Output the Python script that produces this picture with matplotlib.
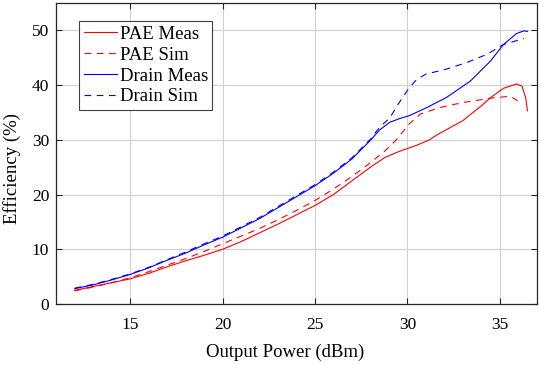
import matplotlib
matplotlib.use("Agg")
import matplotlib.pyplot as plt

# Drain efficiency, measured
drain_meas_p = [12, 13, 14, 15, 16, 17, 18, 19, 20, 21, 22, 23, 24, 25, 26, 27, 28,
                28.5, 29.05, 29.6, 30.1, 31, 32.1, 33.4, 34.5, 35.2, 35.9, 36.3, 36.5]
drain_meas_e = [2.8, 3.5, 4.4, 5.4, 6.6, 8.0, 9.3, 10.8, 12.2, 13.9, 15.6, 17.6, 19.6,
                21.6, 23.9, 26.5, 29.9, 31.8, 33.2, 33.9, 34.4, 35.8, 37.7, 40.7, 44.4,
                47.4, 49.4, 49.9, 49.8]

# Drain efficiency, simulated
drain_sim_p = [12, 13, 14, 15, 16, 17, 18, 19, 20, 21, 22, 23, 24, 25, 26, 27, 28,
               28.5, 29.05, 29.5, 30.1, 30.5, 31, 32.1, 33.2, 34.3, 35.2, 35.8, 36.3]
drain_sim_e = [2.9, 3.6, 4.5, 5.5, 6.7, 8.1, 9.5, 11.0, 12.4, 14.1, 15.8, 17.8, 19.8,
               21.8, 24.1, 26.7, 30.1, 32.3, 34.0, 36.5, 39.5, 41.0, 42.0, 42.9, 44.1,
               45.6, 47.4, 48.0, 48.5]

# PAE, measured
pae_meas_p = [12, 13, 14, 15, 16, 17, 18, 19, 20, 21, 22, 23, 24, 25, 26, 27, 28,
              28.8, 29.5, 30, 30.5, 31.2, 31.6, 32.3, 33, 34, 34.5, 35.2, 35.9, 36.2,
              36.4, 36.5]
pae_meas_e = [2.5, 3.2, 3.9, 4.6, 5.6, 6.8, 7.9, 8.9, 10.0, 11.4, 13.0, 14.6, 16.3,
              18.0, 20.0, 22.5, 25.0, 26.8, 27.8, 28.4, 29.0, 30.0, 30.9, 32.2, 33.5,
              36.2, 37.7, 39.4, 40.2, 39.8, 37.7, 35.3]

# PAE, simulated
pae_sim_p = [12, 13, 14, 15, 16, 17, 18, 19, 20, 21, 22, 23, 24, 25, 26, 27, 28,
             28.8, 29.4, 30.1, 30.7, 31.76, 33, 34.5, 35.4, 35.7, 35.97]
pae_sim_e = [2.4, 3.1, 3.9, 4.8, 5.9, 7.1, 8.3, 9.6, 11.0, 12.4, 13.8, 15.4, 17.1,
             18.9, 21.0, 23.3, 25.8, 28.0, 30.0, 32.9, 34.7, 35.9, 36.8, 37.6, 37.9,
             37.7, 37.1]

plt.rcParams['font.family'] = ['Liberation Serif', 'DejaVu Serif']
plt.rcParams['font.size'] = 13.5

fig = plt.figure(figsize=(5.4, 3.65), dpi=100)
ax = fig.add_axes([0.104, 0.167, 0.89, 0.825])

lw = 0.8
ax.plot(pae_meas_p, pae_meas_e, color='red', lw=lw, label='PAE Meas')
ax.plot(pae_sim_p, pae_sim_e, color='red', lw=lw, dashes=(6, 5), label='PAE Sim')
ax.plot(drain_meas_p, drain_meas_e, color='blue', lw=lw, label='Drain Meas')
ax.plot(drain_sim_p, drain_sim_e, color='blue', lw=lw, dashes=(6, 5), label='Drain Sim')

ax.set_xlim(11, 37)
ax.set_ylim(0, 55)
ax.set_xticks([15, 20, 25, 30, 35])
ax.set_yticks([0, 10, 20, 30, 40, 50])
ax.grid(True, color='#d0d0d0', lw=0.8)
ax.set_axisbelow(True)
ax.tick_params(direction='in', top=True, right=True, length=4, width=0.8,
               colors='#262626', labelcolor='black', labelsize=12.5)
ax.tick_params(axis='x', pad=9)
ax.tick_params(axis='y', pad=5)
for s in ax.spines.values():
    s.set_color('#262626')
    s.set_linewidth(0.9)

ax.set_xlabel('Output Power (dBm)')
ax.set_ylabel('Efficiency (%)')
ax.xaxis.set_label_coords(0.476, -0.133)
ax.yaxis.set_label_coords(-0.073, 0.45)

leg = ax.legend(loc='upper left', bbox_to_anchor=(0.048, 0.94), fancybox=False,
                edgecolor='#404040', framealpha=1, handlelength=1.75,
                borderpad=0.25, labelspacing=0.2, handletextpad=0.15, borderaxespad=0)
leg.get_frame().set_linewidth(0.8)

fig.savefig('out.png', dpi=100)
